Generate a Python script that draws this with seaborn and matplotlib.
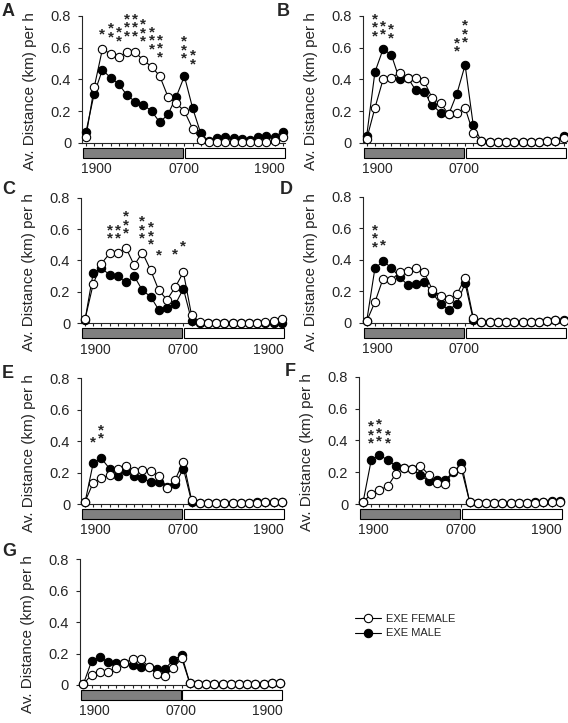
import matplotlib
matplotlib.use("Agg")
import matplotlib.pyplot as plt
import matplotlib.transforms as mtransforms
from matplotlib.patches import Rectangle
from matplotlib.lines import Line2D
import seaborn as sns

# hourly bins, 1900 -> 0700 (dark) -> 1900 (light)
hours = list(range(25))
labels_long = ["1900", "0700", "1900"]
labels_short = ["1900", "0700"]

# EXE female / male average distance (km) per h, panels A-G
a_female = [0.04, 0.35, 0.59, 0.56, 0.54, 0.57, 0.57, 0.52, 0.48, 0.42, 0.29, 0.25, 0.20,
            0.09, 0.02, 0.005, 0.005, 0.005, 0.005, 0.005, 0.005, 0.005, 0.005, 0.01, 0.04]
a_male = [0.07, 0.31, 0.46, 0.41, 0.37, 0.30, 0.26, 0.24, 0.20, 0.13, 0.18, 0.29, 0.42,
          0.22, 0.06, 0.01, 0.03, 0.035, 0.03, 0.025, 0.02, 0.04, 0.045, 0.04, 0.07]
b_female = [0.025, 0.22, 0.40, 0.41, 0.44, 0.41, 0.41, 0.39, 0.28, 0.25, 0.18, 0.19, 0.22,
            0.06, 0.01, 0.005, 0.005, 0.005, 0.005, 0.005, 0.005, 0.005, 0.01, 0.015, 0.03]
b_male = [0.045, 0.445, 0.59, 0.555, 0.40, 0.41, 0.33, 0.32, 0.24, 0.19, 0.18, 0.31, 0.49,
          0.11, 0.01, 0.005, 0.005, 0.005, 0.005, 0.005, 0.005, 0.005, 0.01, 0.015, 0.045]
c_female = [0.025, 0.25, 0.38, 0.445, 0.445, 0.48, 0.37, 0.45, 0.34, 0.21, 0.15, 0.23, 0.325,
            0.05, 0.01, 0.005, 0.005, 0.005, 0.005, 0.005, 0.005, 0.005, 0.01, 0.015, 0.025]
c_male = [0.02, 0.32, 0.35, 0.31, 0.30, 0.26, 0.30, 0.21, 0.17, 0.085, 0.10, 0.12, 0.22,
          0.017, 0.005, 0.005, 0.005, 0.005, 0.005, 0.005, 0.005, 0.005, 0.005, 0.005, 0.005]
d_female = [0.01, 0.13, 0.28, 0.27, 0.32, 0.33, 0.345, 0.32, 0.21, 0.17, 0.15, 0.18, 0.285,
            0.03, 0.005, 0.005, 0.005, 0.005, 0.005, 0.005, 0.005, 0.005, 0.01, 0.015, 0.01]
d_male = [0.01, 0.345, 0.39, 0.35, 0.29, 0.24, 0.245, 0.26, 0.19, 0.12, 0.08, 0.12, 0.25,
          0.02, 0.005, 0.005, 0.005, 0.005, 0.005, 0.005, 0.005, 0.005, 0.01, 0.02, 0.015]
e_female = [0.015, 0.135, 0.165, 0.185, 0.225, 0.24, 0.21, 0.215, 0.21, 0.18, 0.105, 0.155, 0.27,
            0.025, 0.005, 0.005, 0.005, 0.005, 0.005, 0.005, 0.005, 0.005, 0.01, 0.01, 0.015]
e_male = [0.01, 0.26, 0.29, 0.225, 0.18, 0.21, 0.18, 0.165, 0.14, 0.14, 0.11, 0.125, 0.225,
          0.015, 0.005, 0.005, 0.005, 0.005, 0.005, 0.005, 0.005, 0.01, 0.015, 0.015, 0.01]
f_female = [0.01, 0.065, 0.09, 0.11, 0.19, 0.225, 0.22, 0.24, 0.185, 0.13, 0.125, 0.205, 0.22,
            0.015, 0.005, 0.005, 0.005, 0.005, 0.005, 0.005, 0.005, 0.005, 0.01, 0.01, 0.01]
f_male = [0.01, 0.275, 0.31, 0.275, 0.24, 0.225, 0.22, 0.18, 0.145, 0.15, 0.15, 0.20, 0.255,
          0.015, 0.005, 0.005, 0.005, 0.005, 0.005, 0.005, 0.005, 0.01, 0.015, 0.02, 0.02]
g_female = [0.005, 0.065, 0.085, 0.08, 0.11, 0.14, 0.165, 0.165, 0.115, 0.07, 0.06, 0.11, 0.17,
            0.01, 0.005, 0.005, 0.005, 0.005, 0.005, 0.005, 0.005, 0.005, 0.005, 0.01, 0.01]
g_male = [0.005, 0.15, 0.18, 0.145, 0.14, 0.14, 0.13, 0.115, 0.115, 0.10, 0.105, 0.16, 0.19,
          0.01, 0.005, 0.005, 0.005, 0.005, 0.005, 0.005, 0.005, 0.005, 0.005, 0.01, 0.01]

# significance marks: (hour bin, number of stars, level of lowest star)
a_stars = [(2, 1, 0.69), (3, 2, 0.675), (4, 2, 0.65), (5, 3, 0.68), (6, 3, 0.68), (7, 3, 0.645),
           (8, 3, 0.60), (9, 3, 0.55), (12, 3, 0.54), (13, 2, 0.505)]
b_stars = [(1, 3, 0.68), (2, 2, 0.69), (3, 2, 0.67), (11, 2, 0.585), (12, 3, 0.64)]
c_stars = [(3, 2, 0.55), (4, 2, 0.55), (5, 3, 0.58), (7, 3, 0.55), (8, 3, 0.51), (9, 1, 0.445),
           (11, 1, 0.45), (12, 1, 0.50)]
d_stars = [(1, 3, 0.49), (2, 1, 0.50)]
e_stars = [(1, 1, 0.40), (2, 2, 0.425)]
f_stars = [(1, 3, 0.39), (2, 3, 0.40), (3, 2, 0.39)]
g_stars = []

sns.set_style("ticks")
plt.rcParams["font.family"] = ["Liberation Sans", "DejaVu Sans"]

W, H = 568, 723
fig = plt.figure(figsize=(W / 100, H / 100), dpi=100)

# panel: letter, female, male, stars, labels, first point x px, y(0) px, y(0.8) px, letter x/y
panels = [
    ("A", a_female, a_male, a_stars, labels_long, 86.0, 143.0, 15.7, 2, 12),
    ("B", b_female, b_male, b_stars, labels_short, 366.7, 143.0, 15.7, 277, 12),
    ("C", c_female, c_male, c_stars, labels_long, 85.0, 323.3, 197.7, 2, 190),
    ("D", d_female, d_male, d_stars, labels_short, 366.7, 322.7, 196.7, 280, 190),
    ("E", e_female, e_male, e_stars, labels_long, 85.0, 504.0, 378.3, 2, 373),
    ("F", f_female, f_male, f_stars, labels_long, 363.0, 504.0, 376.7, 285, 372),
    ("G", g_female, g_male, g_stars, labels_long, 83.3, 685.0, 559.3, 2, 552),
]

step = 8.2
x_lo, x_hi = -0.45, 24.3
star_fs = 11

for letter, fem, mal, stars, xlabels, x0, y0, y8, lx, ly in panels:
    left = x0 + x_lo * step
    width = (x_hi - x_lo) * step
    ax = fig.add_axes([left / W, (H - y0) / H, width / W, (y0 - y8) / H])

    sns.lineplot(x=hours, y=mal, ax=ax, color="black", lw=0.8, marker="o", ms=6,
                 mfc="black", mec="black", mew=0.8, clip_on=False, zorder=3)
    sns.lineplot(x=hours, y=fem, ax=ax, color="black", lw=0.8, marker="o", ms=6,
                 mfc="white", mec="black", mew=0.8, clip_on=False, zorder=4)

    ax.set_xlim(x_lo, x_hi)
    ax.set_ylim(0, 0.8)
    ax.set_yticks([0, 0.2, 0.4, 0.6, 0.8])
    ax.set_yticklabels(["0", "0.2", "0.4", "0.6", "0.8"])
    ax.set_xticks([1.3, 11.9, 22.4][:len(xlabels)])
    ax.set_xticklabels(xlabels)
    ax.set_xticks(hours, minor=True)
    ax.tick_params(axis="x", which="major", length=0, pad=14, labelsize=10)
    ax.tick_params(axis="x", which="minor", length=2, width=0.8, direction="out")
    ax.tick_params(axis="y", length=3, width=0.8, pad=5, labelsize=10.5)
    for s in ["top", "right"]:
        ax.spines[s].set_visible(False)
    for s in ["left", "bottom"]:
        ax.spines[s].set_linewidth(0.8)
    ax.set_xlabel("")
    ax.set_ylabel("")

    # dark / light bars
    trans = mtransforms.blended_transform_factory(ax.transData, ax.transAxes)
    bar_y = -0.118
    bar_h = 0.079
    ax.add_patch(Rectangle((-0.33, bar_y), 12.2, bar_h, transform=trans, facecolor="#808080",
                           edgecolor="black", lw=0.8, clip_on=False))
    ax.add_patch(Rectangle((12.07, bar_y), 12.2, bar_h, transform=trans, facecolor="white",
                           edgecolor="black", lw=0.8, clip_on=False))

    # one stacked text per column of stars
    for i, n, level in stars:
        ax.annotate("\n".join(["*"] * n), xy=(i, level), xytext=(0, -0.79 * star_fs + 2.5),
                    textcoords="offset points", ha="center", va="bottom",
                    fontsize=star_fs, fontweight="bold", linespacing=0.5,
                    annotation_clip=False)

    fig.text(lx / W, 1 - ly / H, letter, fontsize=13, fontweight="bold",
             ha="left", va="center")
    fig.text((left - 52) / W, 1 - ((y0 + y8) / 2 + 12) / H, "Av. Distance (km) per h",
             rotation=90, fontsize=11, ha="center", va="center")

handles = [
    Line2D([], [], color="black", lw=0.8, marker="o", ms=6, mfc="white", mec="black", mew=0.8),
    Line2D([], [], color="black", lw=0.8, marker="o", ms=6, mfc="black", mec="black", mew=0.8),
]
fig.legend(handles, ["EXE FEMALE", "EXE MALE"], loc="center left",
           bbox_to_anchor=(355 / W, 1 - 626 / H), frameon=False, fontsize=8,
           handlelength=2.3, handletextpad=0.5, labelspacing=0.45, borderpad=0,
           borderaxespad=0)

fig.savefig("out.png", dpi=100, facecolor="white")
